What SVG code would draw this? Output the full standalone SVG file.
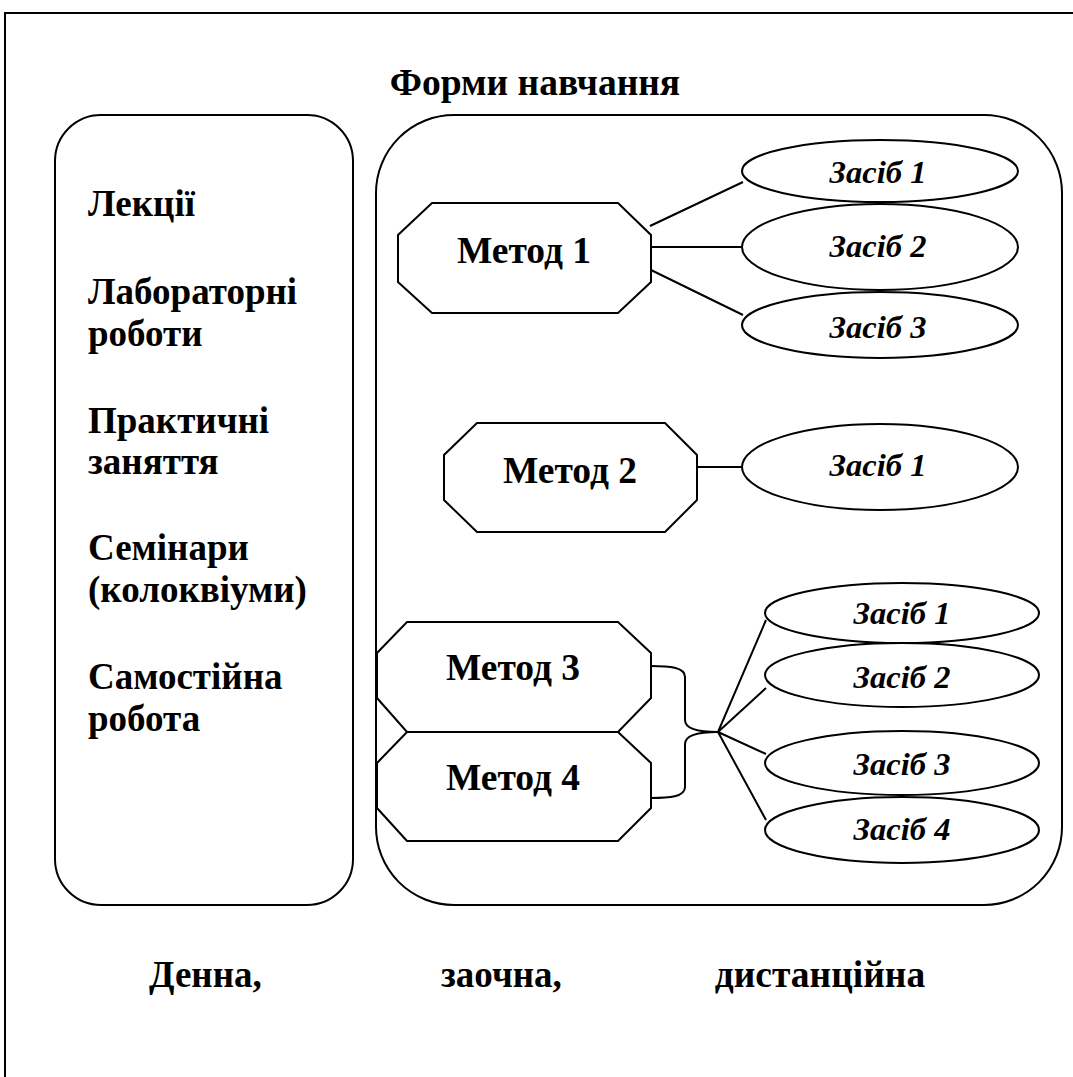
<svg xmlns="http://www.w3.org/2000/svg" width="1073" height="1077" viewBox="0 0 1073 1077">
<style>
.ln{fill:none;stroke:#000;stroke-width:2}
.sh{fill:#fff;stroke:#000;stroke-width:2}
.b{font-family:"Liberation Serif","Times New Roman",serif;font-weight:bold;font-size:37px;fill:#000}
.m{font-family:"Liberation Serif","Times New Roman",serif;font-weight:bold;font-size:37.5px;fill:#000;text-anchor:middle}
.z{font-family:"Liberation Serif","Times New Roman",serif;font-weight:bold;font-style:italic;font-size:32.5px;fill:#000;text-anchor:middle}
</style>
<rect width="1073" height="1077" fill="#fff"/>
<g id="frame"><path class="ln" d="M5,1077 L5,13 L1073,13"/></g>
<g id="title"><text class="m" x="535" y="95">Форми навчання</text></g>
<g id="forms-list">
<rect class="sh" x="55" y="115" width="298" height="790" rx="46" ry="46"/>
<text class="b" x="88" y="216">Лекції</text>
<text class="b" x="88" y="304">Лабораторні</text>
<text class="b" x="88" y="346">роботи</text>
<text class="b" x="88" y="433">Практичні</text>
<text class="b" x="88" y="474">заняття</text>
<text class="b" x="88" y="560">Семінари</text>
<text class="b" x="88" y="602">(колоквіуми)</text>
<text class="b" x="88" y="689">Самостійна</text>
<text class="b" x="88" y="731">робота</text>
</g>
<g id="methods-area"><rect class="sh" x="376" y="115" width="686" height="790" rx="78" ry="78"/></g>
<g id="connectors">
<path class="ln" d="M650,226 L743,182 M651,247 L742,247 M651,270 L743,315"/>
<path class="ln" d="M697,467 L742,467"/>
<path class="ln" d="M651,666 C669,666 685,667 685,677 L685,720 C685,730 703,732 718,732"/>
<path class="ln" d="M651,798 C669,798 685,797 685,787 L685,744 C685,734 703,732 718,732"/>
<path class="ln" d="M718,732 L766,620 M718,732 L766,688 M718,732 L766,754 M718,732 L766,820"/>
</g>
<g id="method1"><polygon class="sh" points="432,203 618,203 651,235 651,282 618,313 432,313 398,282 398,235"/><text class="m" x="524" y="263">Метод 1</text></g>
<g id="m1-tool1"><ellipse class="sh" cx="880" cy="171" rx="138" ry="31"/><text class="z" x="878" y="183">Засіб 1</text></g>
<g id="m1-tool2"><ellipse class="sh" cx="880" cy="247" rx="138" ry="43"/><text class="z" x="878" y="257">Засіб 2</text></g>
<g id="m1-tool3"><ellipse class="sh" cx="880" cy="325" rx="138" ry="33"/><text class="z" x="878" y="338">Засіб 3</text></g>
<g id="method2"><polygon class="sh" points="477,423 665,423 697,455 697,500 665,532 477,532 444,500 444,455"/><text class="m" x="570" y="483">Метод 2</text></g>
<g id="m2-tool1"><ellipse class="sh" cx="880" cy="467" rx="138" ry="43"/><text class="z" x="878" y="476">Засіб 1</text></g>
<g id="method3"><polygon class="sh" points="407,622 618,622 651,653 651,698 618,732 407,732 377,698 377,653"/><text class="m" x="513" y="680">Метод 3</text></g>
<g id="method4"><polygon class="sh" points="407,732 618,732 651,763 651,808 618,841 407,841 377,808 377,763"/><text class="m" x="513" y="790">Метод 4</text></g>
<g id="m34-tool1"><ellipse class="sh" cx="902" cy="613" rx="137" ry="30"/><text class="z" x="902" y="624">Засіб 1</text></g>
<g id="m34-tool2"><ellipse class="sh" cx="902" cy="675" rx="137" ry="32"/><text class="z" x="902" y="688">Засіб 2</text></g>
<g id="m34-tool3"><ellipse class="sh" cx="902" cy="763" rx="137" ry="32"/><text class="z" x="902" y="775">Засіб 3</text></g>
<g id="m34-tool4"><ellipse class="sh" cx="902" cy="830" rx="137" ry="33"/><text class="z" x="902" y="840">Засіб 4</text></g>
<g id="footer">
<text class="b" x="149" y="987">Денна,</text>
<text class="b" x="441" y="987">заочна,</text>
<text class="m" x="820" y="987">дистанційна</text>
</g>
</svg>
